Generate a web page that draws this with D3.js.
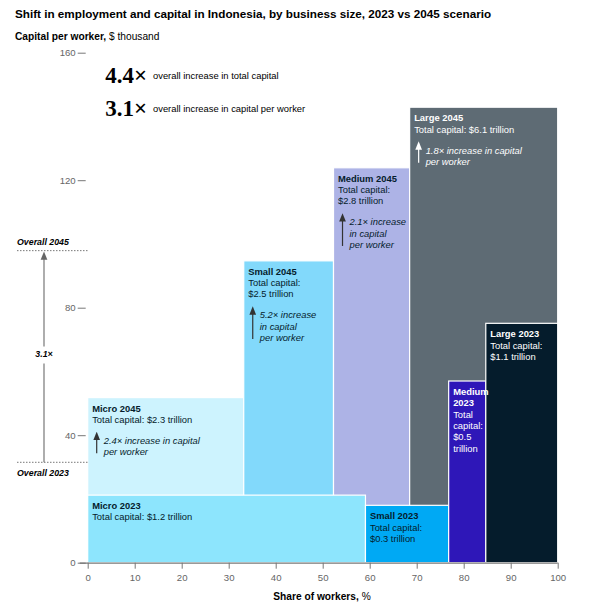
<!DOCTYPE html>
<html>
<head>
<meta charset="utf-8">
<script src="https://cdn.jsdelivr.net/npm/d3@7"></script>
<style>
  body { margin: 0; background: #fff; }
  text { font-family: "Liberation Sans", Arial, sans-serif; }
</style>
</head>
<body>
<div id="chart"></div>
<script>
// business sizes, left to right
var sizes = ["Micro", "Small", "Medium", "Large"];
// share of workers, %
var share2023 = [59.1, 17.7, 7.9, 15.3];
var share2045 = [33.2, 19.1, 16.2, 31.5];
// capital per worker, $ thousand
var cpw2023 = [21.2, 18.0, 57.0, 75.1];
var cpw2045 = [51.8, 94.7, 123.9, 142.9];
// total capital, $ trillion
var capital2023 = ["$1.2", "$0.3", "$0.5", "$1.1"];
var capital2045 = ["$2.3", "$2.5", "$2.8", "$6.1"];
var increase = ["2.4×", "5.2×", "2.1×", "1.8×"];
var overall2023 = 31.5;
var overall2045 = 97.9;
var xTicks = [0, 10, 20, 30, 40, 50, 60, 70, 80, 90, 100];
var yTicks = [0, 40, 80, 120, 160];

var colors2023 = ["#8de5fd", "#00a9f4", "#2e17b8", "#051c2c"];
var colors2045 = ["#cdf3fe", "#82d9fb", "#adb3e6", "#5e6b74"];
var textCol2023 = ["#051c2c", "#051c2c", "#fff", "#fff"];
var textCol2045 = ["#051c2c", "#051c2c", "#051c2c", "#fff"];

var svgWidth = 590, svgHeight = 608;
var svg = d3.select("#chart").append("svg")
  .attr("width", svgWidth)
  .attr("height", svgHeight);

var x = d3.scaleLinear().domain([0, 100]).range([87.7, 557.7]);
var y = d3.scaleLinear().domain([0, 160]).range([562.7, 52.7]);

function blocks(shares, cpw, year) {
  var ends = d3.cumsum(shares);
  return sizes.map(function(s, i) {
    return { size: s, year: year, x0: ends[i] - shares[i], x1: ends[i], v: cpw[i], i: i };
  });
}
var b2023 = blocks(share2023, cpw2023, "2023");
var b2045 = blocks(share2045, cpw2045, "2045");

// title
svg.append("text")
  .attr("x", 15).attr("y", 18)
  .attr("font-size", 11.7).attr("font-weight", "bold").attr("fill", "#000")
  .text("Shift in employment and capital in Indonesia, by business size, 2023 vs 2045 scenario");

var sub = svg.append("text").attr("x", 15).attr("y", 40).attr("font-size", 10.2).attr("fill", "#000");
sub.append("tspan").attr("font-weight", "bold").text("Capital per worker,");
sub.append("tspan").text(" $ thousand");

// blocks: 2045 behind, 2023 in front
var chart = svg.append("g");
chart.selectAll("rect.b45").data(b2045).enter().append("rect")
  .attr("class", "b45")
  .attr("x", d => x(d.x0)).attr("width", d => x(d.x1) - x(d.x0))
  .attr("y", d => y(d.v)).attr("height", d => y(0) - y(d.v))
  .attr("fill", d => colors2045[d.i])
  .attr("stroke", "#fff").attr("stroke-width", 1.2);

chart.selectAll("rect.b23").data(b2023).enter().append("rect")
  .attr("class", "b23")
  .attr("x", d => x(d.x0)).attr("width", d => x(d.x1) - x(d.x0))
  .attr("y", d => y(d.v)).attr("height", d => y(0) - y(d.v))
  .attr("fill", d => colors2023[d.i])
  .attr("stroke", "#fff").attr("stroke-width", 1.2);

// arrow heads
var defs = svg.append("defs");
[["arrDark", "#333"], ["arrWhite", "#fff"], ["arrGrey", "#666"]].forEach(function(m) {
  defs.append("marker").attr("id", m[0])
    .attr("viewBox", "0 0 10 10").attr("refX", 5).attr("refY", 5)
    .attr("markerWidth", 7).attr("markerHeight", 7).attr("orient", "auto")
    .append("path").attr("d", "M0,1 L10,5 L0,9 Z").attr("fill", m[1]);
});

// block labels (lines per block)
var lines2045 = [
  { title: ["Micro 2045"], cap: ["Total capital: " + capital2045[0] + " trillion"], inc: [increase[0] + " increase in capital", "per worker"] },
  { title: ["Small 2045"], cap: ["Total capital:", capital2045[1] + " trillion"], inc: [increase[1] + " increase", "in capital", "per worker"] },
  { title: ["Medium 2045"], cap: ["Total capital:", capital2045[2] + " trillion"], inc: [increase[2] + " increase", "in capital", "per worker"] },
  { title: ["Large 2045"], cap: ["Total capital: " + capital2045[3] + " trillion"], inc: [increase[3] + " increase in capital", "per worker"] }
];
var lines2023 = [
  { title: ["Micro 2023"], cap: ["Total capital: " + capital2023[0] + " trillion"] },
  { title: ["Small 2023"], cap: ["Total capital:", capital2023[1] + " trillion"] },
  { title: ["Medium", "2023"], cap: ["Total", "capital:", capital2023[2], "trillion"] },
  { title: ["Large 2023"], cap: ["Total capital:", capital2023[3] + " trillion"] }
];

var fs = 9.4, lh = 11.3;
function drawLabel(b, info, col, withInc) {
  var g = svg.append("g");
  var tx = x(b.x0) + 4.5;
  var ty = y(b.v) + 14;
  var k = 0;
  info.title.forEach(function(t) {
    g.append("text").attr("x", tx).attr("y", ty + lh * k++)
      .attr("font-size", fs).attr("font-weight", "bold").attr("fill", col).text(t);
  });
  info.cap.forEach(function(t) {
    g.append("text").attr("x", tx).attr("y", ty + lh * k++)
      .attr("font-size", fs).attr("fill", col).text(t);
  });
  if (withInc) {
    var top = ty + lh * (k - 1) + 11;
    var n = info.inc.length;
    var ax = tx + 4.5;
    g.append("line")
      .attr("x1", ax).attr("x2", ax)
      .attr("y1", top + lh * (n - 1) + 8).attr("y2", top + 2)
      .attr("stroke", col === "#fff" ? "#fff" : "#333").attr("stroke-width", 1.2)
      .attr("marker-end", col === "#fff" ? "url(#arrWhite)" : "url(#arrDark)");
    info.inc.forEach(function(t, j) {
      g.append("text").attr("x", ax + 7).attr("y", top + 10 + lh * j)
        .attr("font-size", fs).attr("font-style", "italic").attr("fill", col).text(t);
    });
  }
}
b2045.forEach(function(b, i) { drawLabel(b, lines2045[i], textCol2045[i], true); });
b2023.forEach(function(b, i) { drawLabel(b, lines2023[i], textCol2023[i], false); });

// axes
var xAxis = svg.append("g").attr("transform", `translate(0, ${y(0)})`)
  .call(d3.axisBottom(x).tickValues(xTicks).tickSize(6).tickPadding(5));
xAxis.select(".domain").attr("stroke", "#777").attr("stroke-width", 1.3)
  .attr("d", `M${x(0) - 8},0.5H${x(100)}`);
xAxis.selectAll(".tick line").attr("stroke", "#777");
xAxis.selectAll(".tick text").attr("font-size", 9.6).attr("fill", "#666");

var yAxis = svg.append("g").attr("transform", `translate(${x(0)}, 0)`)
  .call(d3.axisLeft(y).tickValues(yTicks).tickSize(8).tickPadding(4));
yAxis.select(".domain").remove();
yAxis.selectAll(".tick line").attr("stroke", "#777").attr("transform", "translate(-2,0)");
yAxis.selectAll(".tick text").attr("font-size", 9.6).attr("fill", "#666");

var xl = svg.append("text").attr("x", 322).attr("y", 600).attr("text-anchor", "middle")
  .attr("font-size", 10.2).attr("fill", "#000");
xl.append("tspan").attr("font-weight", "bold").text("Share of workers,");
xl.append("tspan").text(" %");

// overall reference lines
[[overall2045, "Overall 2045", -6], [overall2023, "Overall 2023", 14]].forEach(function(o) {
  svg.append("line")
    .attr("x1", 17).attr("x2", x(0))
    .attr("y1", y(o[0])).attr("y2", y(o[0]))
    .attr("stroke", "#777").attr("stroke-width", 1).attr("stroke-dasharray", "1.5,1.5");
  svg.append("text").attr("x", 17).attr("y", y(o[0]) + o[2])
    .attr("font-size", 8.8).attr("font-weight", "bold").attr("font-style", "italic")
    .attr("fill", "#000").text(o[1]);
});
var midY = (y(overall2023) + y(overall2045)) / 2;
svg.append("line").attr("x1", 44).attr("x2", 44)
  .attr("y1", y(overall2023)).attr("y2", midY + 7)
  .attr("stroke", "#777").attr("stroke-width", 1.2);
svg.append("line").attr("x1", 44).attr("x2", 44)
  .attr("y1", midY - 10).attr("y2", y(overall2045) + 5)
  .attr("stroke", "#777").attr("stroke-width", 1.2)
  .attr("marker-end", "url(#arrGrey)");
svg.append("text").attr("x", 44).attr("y", midY + 1).attr("text-anchor", "middle")
  .attr("font-size", 8.8).attr("font-weight", "bold").attr("font-style", "italic")
  .attr("fill", "#000").text("3.1×");

// headline multipliers
[["4.4×", "overall increase in total capital", 83], ["3.1×", "overall increase in capital per worker", 116]].forEach(function(h) {
  svg.append("text").attr("x", 147).attr("y", h[2]).attr("text-anchor", "end")
    .style("font-family", "'Liberation Serif', 'DejaVu Serif', serif").attr("font-weight", "bold")
    .attr("font-size", 23).attr("fill", "#000").text(h[0]);
  svg.append("text").attr("x", 153).attr("y", h[2] - 4)
    .attr("font-size", 9.4).attr("fill", "#000").text(h[1]);
});
</script>
</body>
</html>
